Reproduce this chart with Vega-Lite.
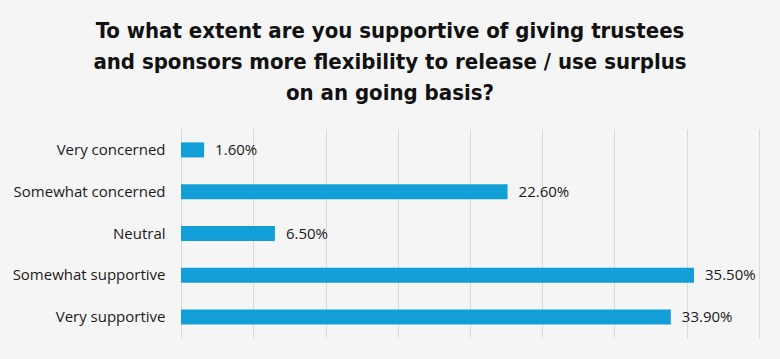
{
  "$schema": "https://vega.github.io/schema/vega-lite/v6.json",
  "autosize": {"type": "none"},
  "width": 578,
  "height": 209,
  "padding": {"left": 181, "top": 129, "right": 21, "bottom": 21},
  "background": "#f5f5f5",
  "title": {
    "text": ["To what extent are you supportive of giving trustees", "and sponsors more flexibility to release / use surplus", "on an going basis?"],
    "font": "'DejaVu Sans Condensed', Roboto, sans-serif",
    "fontSize": 22,
    "fontWeight": "bold",
    "lineHeight": 31,
    "color": "#111111",
    "anchor": "middle",
    "dx": -80,
    "offset": 24
  },
  "data": {
    "values": [
      {"category": "Very concerned", "value": 0.016},
      {"category": "Somewhat concerned", "value": 0.226},
      {"category": "Neutral", "value": 0.065},
      {"category": "Somewhat supportive", "value": 0.355},
      {"category": "Very supportive", "value": 0.339}
    ]
  },
  "encoding": {
    "y": {
      "field": "category",
      "type": "nominal",
      "sort": null,
      "scale": {"paddingInner": 0.64, "paddingOuter": 0.32},
      "axis": {
        "title": null,
        "ticks": false,
        "domain": false,
        "labelPadding": 16,
        "labelFont": "Open Sans",
        "labelFontSize": 15,
        "labelColor": "#1a1a1a"
      }
    },
    "x": {
      "field": "value",
      "type": "quantitative",
      "scale": {"domain": [0, 0.4], "nice": false},
      "axis": {
        "title": null,
        "values": [0, 0.05, 0.1, 0.15, 0.2, 0.25, 0.3, 0.35, 0.4],
        "labels": false,
        "ticks": false,
        "domain": false,
        "grid": true,
        "gridColor": "#d9d9d9",
        "gridWidth": 1
      }
    }
  },
  "layer": [
    {"mark": {"type": "bar", "color": "#129fd7"}},
    {
      "mark": {"type": "text", "align": "left", "baseline": "middle", "dx": 11, "font": "Open Sans", "fontSize": 15, "color": "#1a1a1a"},
      "encoding": {"text": {"field": "value", "type": "quantitative", "format": ".2%"}}
    }
  ],
  "config": {"view": {"stroke": null}}
}
